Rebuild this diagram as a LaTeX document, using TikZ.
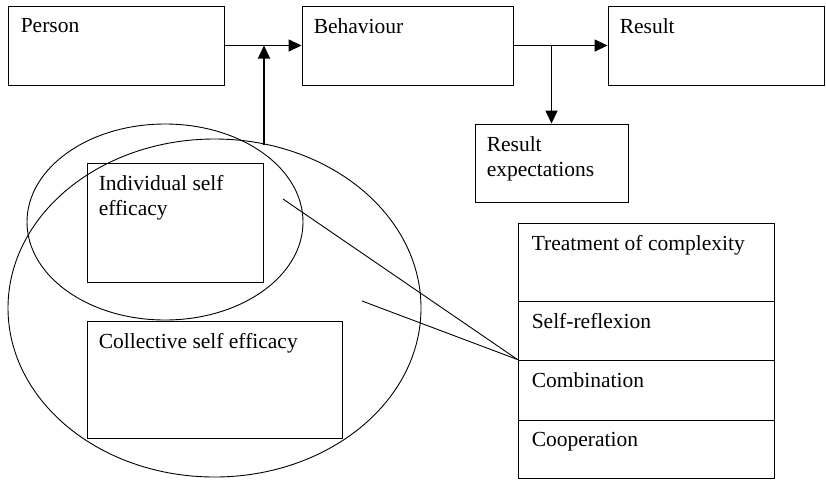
\documentclass[tikz,border=0pt]{standalone}
\usepackage{fontspec}
\setmainfont{Liberation Serif}
\usetikzlibrary{arrows.meta,shapes.geometric}
\tikzset{
  box/.style={draw, line width=0.9pt, inner sep=0pt},
  oval/.style={draw, ellipse, line width=0.9pt, inner sep=0pt},
  txt/.style={anchor=north west, inner sep=0pt, align=left, font=\fontsize{21.5}{25}\selectfont},
  arr/.style={line width=1.5pt, -{Triangle[length=13pt,width=12pt]}},
}
\begin{document}
\begin{tikzpicture}[x=1pt,y=-1pt]
        \useasboundingbox (0,0) rectangle (826,480);
        % ellipses
        \node[oval, minimum width=413pt, minimum height=338pt] (collell) at (214.5,308) {};
        \node[oval, minimum width=276pt, minimum height=196pt] (indell) at (165,222) {};
        % top row
        \node[box, minimum width=216pt, minimum height=79pt] (person) at (116,45.5) {};
        \node[box, minimum width=211pt, minimum height=79pt] (behav) at (407.5,45.5) {};
        \node[box, minimum width=216pt, minimum height=79pt] (result) at (716,45.5) {};
        \node[box, minimum width=153pt, minimum height=78pt] (reexp) at (551.5,163) {};
        \node[txt] at ([shift={(13,12.5)}]person.north west) {Person};
        \node[txt] at ([shift={(12,12.5)}]behav.north west) {Behaviour};
        \node[txt] at ([shift={(12,12.5)}]result.north west) {Result};
        \node[txt] at ([shift={(12,12.5)}]reexp.north west) {Result\\expectations};
        % self efficacy
        \node[box, minimum width=176pt, minimum height=119pt] (indiv) at (175,222.5) {};
        \node[box, minimum width=255pt, minimum height=117pt] (collect) at (214.5,379.5) {};
        \node[txt] at ([shift={(12,13)}]indiv.north west) {Individual self\\efficacy};
        \node[txt] at ([shift={(12,13)}]collect.north west) {Collective self efficacy};
        % right stack
        \node[box, minimum width=256pt, minimum height=78pt] (treat) at (646,262) {};
        \node[box, minimum width=256pt, minimum height=59pt] (selfref) at (646,330.5) {};
        \node[box, minimum width=256pt, minimum height=60pt] (combi) at (646,390) {};
        \node[box, minimum width=256pt, minimum height=58pt] (coop) at (646,449) {};
        \node[txt] at ([shift={(14,12.5)}]treat.north west) {Treatment of complexity};
        \node[txt] at ([shift={(14,12.5)}]selfref.north west) {Self-reflexion};
        \node[txt] at ([shift={(14,12.5)}]combi.north west) {Combination};
        \node[txt] at ([shift={(14,12.5)}]coop.north west) {Cooperation};
        % arrows
        \draw[arr] (person.east) -- (behav.west);
        \draw[arr] (behav.east) -- (result.west);
        \coordinate (efftop) at (264,145);
        \draw[arr] (efftop) -- (efftop |- person.east);
        \draw[arr] (reexp.north |- behav.east) -- (reexp.north);
        % lines to the stack
        \coordinate (indpt) at (283,199);
        \coordinate (colpt) at (362,301);
        \draw[line width=0.9pt] (indpt) -- (combi.north west);
        \draw[line width=0.9pt] (colpt) -- (combi.north west);
    \end{tikzpicture}
\end{document}
